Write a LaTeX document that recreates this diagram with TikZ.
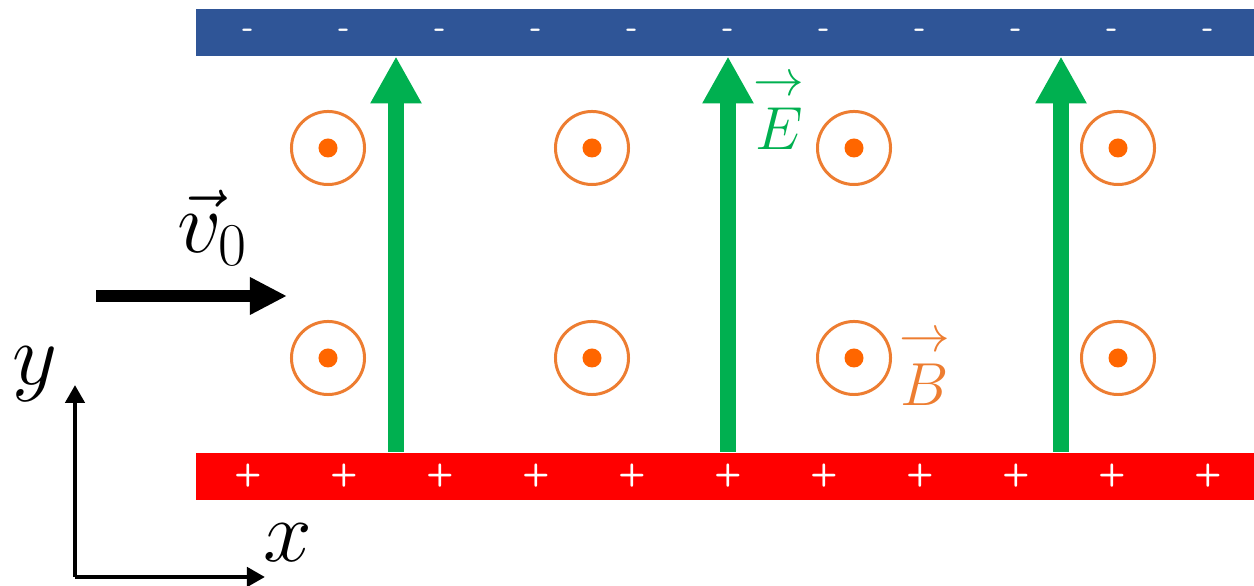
\documentclass[tikz,border=0pt]{standalone}
\usepackage{tikz}
\usetikzlibrary{arrows.meta, calc}
\usepackage{amsmath}

\definecolor{plateblue}{RGB}{47,85,151}
\definecolor{fieldgreen}{RGB}{0,176,80}
\definecolor{ringorange}{RGB}{237,125,49}
\definecolor{dotorange}{RGB}{255,102,0}

\begin{document}
\begin{tikzpicture}[x=0.01cm, y=-0.01cm, font=\fontsize{24}{24}\selectfont,
  plate/.style={minimum width=10.59cm, minimum height=0.47cm, inner sep=0pt, anchor=north west},
  chg/.style={text=white, font=\sffamily\bfseries\fontsize{9}{9}\selectfont, inner sep=0pt},
  ring/.style={draw=ringorange, line width=0.85pt, circle, minimum size=0.73cm, inner sep=0pt},
  bdot/.style={fill=dotorange, circle, minimum size=0.19cm, inner sep=0pt},
  efield/.style={draw=fieldgreen, line width=4.3pt, -{Triangle[width=0.48cm, length=0.47cm]}},
  vel/.style={line width=3.4pt, -{Triangle[width=0.35cm, length=0.37cm]}},
  axis/.style={line width=1.4pt, -{Triangle[width=0.19cm, length=0.18cm]}},
  flabel/.style={font=\fontsize{19}{19}\selectfont, inner sep=0pt}]
\useasboundingbox (0,0) rectangle (1254,586);

% ---------- plates ----------
\node[plate, fill=plateblue] (top) at (195,8)   {};
\node[plate, fill=red]       (bot) at (195,452) {};
\foreach \i in {0,...,10} {
  \node[chg] (m\i) at ({248+96*\i},33)  {-};
  \node[chg] (p\i) at ({248+96*\i},476) {+};
}

% ---------- magnetic field (out of page) ----------
\foreach \cx [count=\k] in {328,592,854,1118} {
  \node[ring] (bu\k) at (\cx,148) {};
  \node[bdot] at (bu\k) {};
  \node[ring] (bl\k) at (\cx,358) {};
  \node[bdot] at (bl\k) {};
}
\node[flabel, text=ringorange] (blab) at (925,366) {$\overset{\rightarrow}{B}$};

% ---------- electric field, red plate -> blue plate ----------
\coordinate (e1) at (396,0);
\coordinate (e2) at (728,0);
\coordinate (e3) at (1061,0);
\draw[efield] (e1 |- bot.north) -- (e1 |- top.south);
\draw[efield] (e2 |- bot.north) -- (e2 |- top.south);
\draw[efield] (e3 |- bot.north) -- (e3 |- top.south);
\node[flabel, text=fieldgreen] (elab) at (779,110) {$\overset{\rightarrow}{E}$};

% ---------- initial velocity ----------
\coordinate (vs) at (96,296);
\coordinate (ve) at (287,296);
\draw[vel] (vs) -- (ve);
\node (vlab) at (213,228) {$\vec{v}_0$};

% ---------- axes ----------
\coordinate (o)  at (75,577);
\coordinate (xa) at (265,577);
\coordinate (ya) at (75,385);
\draw[axis] (o) -- (xa);
\draw[axis] (o) -- (ya);
\node (xlab) at (288,543) {$x$};
\node (ylab) at (35,374)  {$y$};

\end{tikzpicture}
\end{document}
